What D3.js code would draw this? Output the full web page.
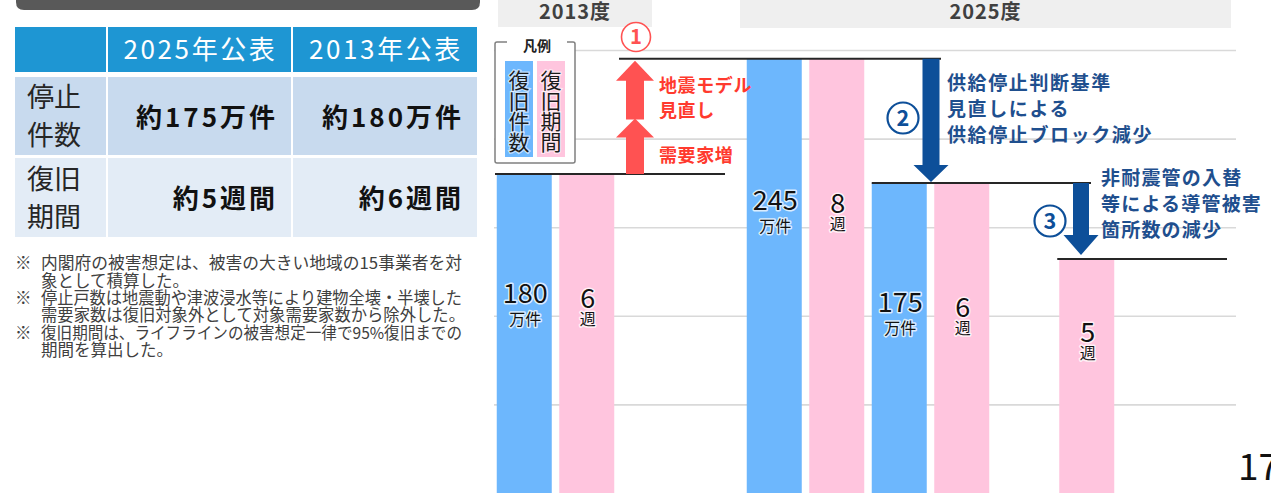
<!DOCTYPE html>
<html><head><meta charset="utf-8">
<script src="https://cdn.jsdelivr.net/npm/d3@7"></script>
<style>
html,body{margin:0;padding:0;background:#fff;overflow:hidden}
svg{display:block;font-family:"Noto Sans CJK JP","Noto Sans",sans-serif}
</style></head><body>
<svg id="c" width="1271" height="493"></svg>
<script>
// ---------------- data ----------------
const tableColumns = ['2025年公表', '2013年公表'];
const tableRowLabels = [['停止', '件数'], ['復旧', '期間']];
const tableValues = [['約175万件', '約180万件'], ['約5週間', '約6週間']];
const notes = [
  ['※', '内閣府の被害想定は、被害の大きい地域の15事業者を対'],
  ['', '象として積算した。'],
  ['※', '停止戸数は地震動や津波浸水等により建物全壊・半壊した'],
  ['', '需要家数は復旧対象外として対象需要家数から除外した。'],
  ['※', '復旧期間は、ライフラインの被害想定一律で95%復旧までの'],
  ['', '期間を算出した。']
];
const periods = ['2013度', '2025度'];
const categories = ['2013-件数', '2013-期間', '空1', '空2', '①-件数', '①-期間', '②-件数', '②-期間', '空3', '③-期間', '空4', '空5'];
const countCats = ['2013-件数', '①-件数', '②-件数'];
const countValues = [180, 245, 175];           // 万件
const weekCats = ['2013-期間', '①-期間', '②-期間', '③-期間'];
const weekValues = [6, 8, 6, 5];               // 週
const weekLevels = [180, 245, 175, 132];       // schematic bar height on the 万件 axis
const yTicks = [50, 100, 150, 200, 250];
const legendItems = ['復旧件数', '復旧期間'];
const redLabels = [['地震モデル', '見直し'], ['需要家増']];
const blueLabel2 = ['供給停止判断基準', '見直しによる', '供給停止ブロック減少'];
const blueLabel3 = ['非耐震管の入替', '等による導管被害', '箇所数の減少'];
const pageNumber = '17';

// ---------------- styles ----------------
const BLUE = '#6db7fd', PINK = '#ffc5de', RED = '#ff5252', REDTXT = '#ff3a2e',
      NAVY = '#0d4f99', NAVYTXT = '#1f4f8e';

const svg = d3.select('#c');

// ---------------- left: title bar + table ----------------
svg.append('path')
  .attr('d', 'M16,-10 H480 V2 Q480,10 472,10 H24 Q16,10 16,2 Z')
  .attr('fill', '#595959');

const colX = [[15, 106], [108, 291], [293, 477]];
const rowsY = [[27, 72], [77, 155], [158, 237]];
const rowFill = ['#1e96d3', '#c8daee', '#e3ecf6'];
rowsY.forEach((r, i) => {
  colX.forEach(c => {
    svg.append('rect').attr('x', c[0]).attr('y', r[0])
      .attr('width', c[1] - c[0]).attr('height', r[1] - r[0]).attr('fill', rowFill[i]);
  });
});
tableColumns.forEach((t, i) => {
  svg.append('text').attr('x', (colX[i + 1][0] + colX[i + 1][1]) / 2 + 1).attr('y', 50)
    .attr('dy', '0.36em').attr('text-anchor', 'middle').attr('fill', '#fff')
    .attr('font-size', 26).attr('letter-spacing', 2.6).text(t);
});
tableRowLabels.forEach((lines, i) => {
  const cy = (rowsY[i + 1][0] + rowsY[i + 1][1]) / 2;
  lines.forEach((l, j) => {
    svg.append('text').attr('x', 27).attr('y', cy - 19 + j * 38).attr('dy', '0.38em')
      .attr('font-size', 27).attr('fill', '#262626').text(l);
  });
});
tableValues.forEach((row, i) => {
  const cy = (rowsY[i + 1][0] + rowsY[i + 1][1]) / 2;
  row.forEach((v, j) => {
    svg.append('text').attr('x', colX[j + 1][1] - 13).attr('y', cy + 1).attr('dy', '0.37em')
      .attr('text-anchor', 'end').attr('font-size', 26).attr('font-weight', 'bold')
      .attr('letter-spacing', 3).attr('fill', '#111').text(v);
  });
});
const noteWidths = [421, null, 421, 424, 421, null];
notes.forEach((n, i) => {
  const yy = 263 + i * 17.4;
  if (n[0]) svg.append('text').attr('x', 15).attr('y', yy).attr('dy', '0.37em')
    .attr('font-size', 16.5).attr('fill', '#404040').text(n[0]);
  const t = svg.append('text').attr('x', 41).attr('y', yy).attr('dy', '0.37em')
    .attr('font-size', 16.5).attr('fill', '#404040').text(n[1]);
  if (noteWidths[i]) t.attr('textLength', noteWidths[i]).attr('lengthAdjust', 'spacingAndGlyphs');
});

// ---------------- right: chart ----------------
const x = d3.scaleBand().domain(categories).range([493, 1243]).paddingInner(0.12).paddingOuter(0.06);
const y = d3.scaleLinear().domain([0, 250]).range([493, 50]);

// period header boxes
const headerBoxes = [[498, 652, 27], [740, 1231, 28]];
periods.forEach((p, i) => {
  const b = headerBoxes[i];
  svg.append('rect').attr('x', b[0]).attr('y', 0).attr('width', b[1] - b[0]).attr('height', b[2]).attr('fill', '#efefef');
  svg.append('text').attr('x', (b[0] + b[1]) / 2).attr('y', 18.5).attr('text-anchor', 'middle')
    .attr('font-size', 20).attr('font-weight', 'bold').attr('letter-spacing', 1).attr('fill', '#404040').text(p);
});

// gridlines
const grid = svg.append('g').attr('transform', 'translate(494,0)')
  .call(d3.axisLeft(y).tickValues(yTicks).tickSize(-742).tickFormat(''));
grid.select('.domain').remove();
grid.selectAll('line').attr('stroke', '#d9d9d9').attr('stroke-width', 1.6);

// bars
const bars = svg.append('g');
bars.selectAll('.cnt').data(countCats).join('rect').attr('class', 'cnt')
  .attr('x', d => x(d)).attr('width', x.bandwidth())
  .attr('y', (d, i) => y(countValues[i])).attr('height', (d, i) => y(0) - y(countValues[i]))
  .attr('fill', BLUE);
bars.selectAll('.wk').data(weekCats).join('rect').attr('class', 'wk')
  .attr('x', d => x(d)).attr('width', x.bandwidth())
  .attr('y', (d, i) => y(weekLevels[i])).attr('height', (d, i) => y(0) - y(weekLevels[i]))
  .attr('fill', PINK);

// bar labels (offset below bar top, layout only)
const labelOffset = { '2013-件数': 119, '①-件数': 141, '②-件数': 119, '2013-期間': 124, '①-期間': 144, '②-期間': 124, '③-期間': 73 };
function barLabel(cat, level, value, unit) {
  const cx = x(cat) + x.bandwidth() / 2 + 1;
  const cy = y(level) + labelOffset[cat];
  const g = svg.append('g').attr('stroke', 'rgba(255,255,255,0.75)').attr('stroke-width', 3)
    .attr('paint-order', 'stroke').attr('stroke-linejoin', 'round');
  g.append('text').attr('x', cx).attr('y', cy).attr('dy', '0.36em').attr('text-anchor', 'middle')
    .attr('font-size', 27).attr('fill', '#111').text(value);
  g.append('text').attr('x', cx).attr('y', cy + (unit === '週' ? 21 : 26)).attr('dy', '0.38em')
    .attr('text-anchor', 'middle').attr('font-size', 16).attr('fill', '#111').text(unit);
}
countCats.forEach((c, i) => barLabel(c, countValues[i], countValues[i], '万件'));
weekCats.forEach((c, i) => barLabel(c, weekLevels[i], weekValues[i], '週'));

// step lines
const stepLine = (x1, x2, v) => svg.append('line').attr('x1', x1).attr('x2', x2)
  .attr('y1', y(v)).attr('y2', y(v)).attr('stroke', '#262626').attr('stroke-width', 2);
stepLine(495, 725, countValues[0]);
stepLine(619, 941, countValues[1]);
stepLine(x('②-件数'), 1091, countValues[2]);
stepLine(x('③-期間') - 2, 1227, weekLevels[3]);

// arrows
function arrow(cx, yFrom, yTo, shaftW, headW, headL, color) {
  const dir = yTo < yFrom ? -1 : 1;
  const hb = yTo - dir * headL;
  const p = [[cx - shaftW / 2, yFrom], [cx - shaftW / 2, hb], [cx - headW / 2, hb], [cx, yTo],
             [cx + headW / 2, hb], [cx + shaftW / 2, hb], [cx + shaftW / 2, yFrom]];
  svg.append('path').attr('d', d3.line()(p) + 'Z').attr('fill', color);
}
const mid1 = (y(countValues[0]) + y(countValues[1])) / 2 + 2;
arrow(635, y(countValues[0]), mid1, 18, 38, 19, RED);
arrow(635, mid1 + 1, y(countValues[1]) + 2, 18, 38, 20, RED);
arrow(931, y(countValues[1]), y(countValues[2]) - 1, 17, 35, 17, NAVY);
arrow(1081, y(countValues[2]), y(weekLevels[3]) - 4, 16, 35, 20, NAVY);

// circled numbers
function circled(cx, cy, r, num, color, sw) {
  svg.append('circle').attr('cx', cx).attr('cy', cy).attr('r', r).attr('fill', '#fff')
    .attr('stroke', color).attr('stroke-width', sw);
  svg.append('text').attr('x', cx).attr('y', cy).attr('dy', '0.36em').attr('text-anchor', 'middle')
    .attr('font-size', r * 1.4).attr('font-weight', 'bold').attr('fill', color).text(num);
}
circled(636, 37, 14.5, '1', RED, 1.6);
circled(903, 118, 15.5, '2', NAVY, 2.2);
circled(1050, 221, 15.5, '3', NAVY, 2.2);

// annotation texts
function label(lines, x0, y0, step, color, size, ls) {
  lines.forEach((l, i) => svg.append('text').attr('x', x0).attr('y', y0 + i * step).attr('dy', '0.38em')
    .attr('font-size', size).attr('font-weight', 'bold').attr('letter-spacing', ls)
    .attr('fill', color).text(l));
}
label(redLabels[0], 659, 85, 25, REDTXT, 18, 0.6);
label(redLabels[1], 659, 155, 25, REDTXT, 18, 0.6);
label(blueLabel2, 947, 83, 26, NAVYTXT, 19, 1.6);
label(blueLabel3, 1101, 178, 26, NAVYTXT, 19, 1.2);

// legend
const lg = svg.append('g');
lg.append('path').attr('d', 'M507,42 H497 Q495,42 495,44 V161 Q495,163 497,163 H573 Q575,163 575,161 V44 Q575,42 573,42 H567')
  .attr('fill', '#fff').attr('stroke', '#808080').attr('stroke-width', 1.5);
lg.append('text').attr('x', 537).attr('y', 46).attr('dy', '0.38em').attr('text-anchor', 'middle')
  .attr('font-size', 14).attr('font-weight', 'bold').attr('fill', '#222').text('凡例');
legendItems.forEach((t, i) => {
  const lx = i === 0 ? 505 : 537;
  lg.append('rect').attr('x', lx).attr('y', 61).attr('width', 28).attr('height', 96).attr('fill', i === 0 ? BLUE : PINK);
  Array.from(t).forEach((ch, j) => {
    lg.append('text').attr('x', lx + 14).attr('y', 80 + j * 20.7).attr('dy', '0.38em').attr('text-anchor', 'middle')
      .attr('font-size', 21).attr('fill', '#1a1a1a')
      .attr('stroke', 'rgba(255,255,255,0.6)').attr('stroke-width', 2.5).attr('paint-order', 'stroke').text(ch);
  });
});

// page number
svg.append('text').attr('x', 1238).attr('y', 480).attr('font-size', 37).attr('fill', '#111').text(pageNumber);
</script>
</body></html>
